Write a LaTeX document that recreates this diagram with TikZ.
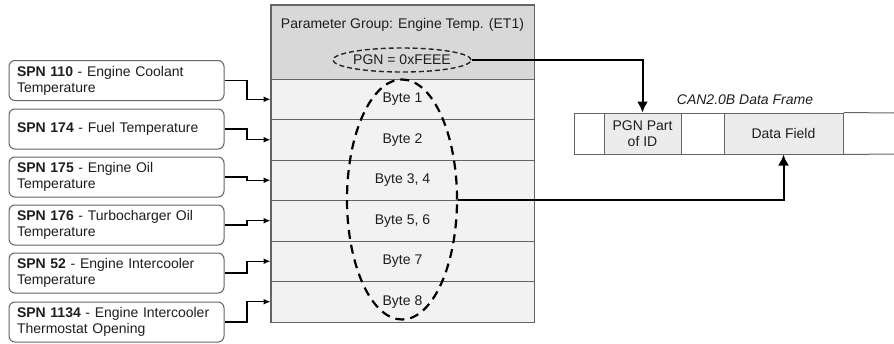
\documentclass[tikz,border=0pt]{standalone}
\usepackage{fontspec}
\setmainfont{Liberation Sans}
\usetikzlibrary{arrows.meta,shapes.geometric}
\definecolor{hdrgray}{RGB}{216,216,216}
\definecolor{rowgray}{RGB}{242,242,242}
\definecolor{cellgray}{RGB}{236,236,236}
\definecolor{linegray}{RGB}{100,100,100}
\definecolor{txt}{RGB}{30,30,30}
\tikzset{
  every node/.style={font=\fontsize{14}{16}\selectfont, text=txt},
  spnbox/.style={draw=linegray, line width=1pt, rounded corners=6pt, fill=white,
    minimum width=215pt, minimum height=40pt, text width=199pt, inner xsep=8pt,
    inner ysep=0pt, align=left},
  bytebox/.style={draw=linegray, line width=1pt, fill=rowgray, minimum width=263pt,
    minimum height=40.5pt, inner sep=0pt},
  canbox/.style={draw=linegray, line width=1pt, minimum height=41pt, inner sep=0pt, align=center},
  conn/.style={line width=1.4pt, -{Latex[length=7pt,width=6pt]}},
  bigarrow/.style={line width=2pt, -{Latex[length=11pt,width=11pt]}},
}
\begin{document}
\begin{tikzpicture}[x=1pt,y=-1pt]
\useasboundingbox (0,0) rectangle (894,343);
% main table
\node[draw=linegray, line width=1pt, fill=hdrgray, minimum width=263pt, minimum height=74pt, inner sep=0pt] (hdr) at (402.5,42) {};
\node (hdrtext) at (402.5,25) {Parameter Group: Engine Temp. (ET1)};
\node[bytebox] (r1) at (402.5,99.25) {Byte 1};
\node[bytebox] (r2) at (402.5,139.75) {Byte 2};
\node[bytebox] (r3) at (402.5,180.25) {Byte 3, 4};
\node[bytebox] (r4) at (402.5,220.75) {Byte 5, 6};
\node[bytebox] (r5) at (402.5,261.25) {Byte 7};
\node[bytebox] (r6) at (402.5,301.75) {Byte 8};
\draw[line width=1pt, draw=linegray] (hdr.north west) rectangle (r6.south east);
% ellipses
\node[ellipse, draw=black!85, dashed, dash pattern=on 5pt off 3pt, line width=1.4pt,
  minimum width=138pt, minimum height=24pt, inner sep=0pt] (pgn) at (402,60) {PGN = 0xFEEE};
\node[ellipse, draw=black, dash pattern=on 9pt off 6pt, line width=2.2pt,
  minimum width=110pt, minimum height=240pt, inner sep=0pt] (big) at (402,199.5) {};
% SPN boxes
\node[spnbox] (s1) at (116.5,80.5) {\textbf{SPN 110} - Engine Coolant\\Temperature};
\node[spnbox] (s2) at (116.5,129) {\textbf{SPN 174} - Fuel Temperature};
\node[spnbox] (s3) at (116.5,177) {\textbf{SPN 175} - Engine Oil\\Temperature};
\node[spnbox] (s4) at (116.5,225) {\textbf{SPN 176} - Turbocharger Oil\\Temperature};
\node[spnbox] (s5) at (116.5,273) {\textbf{SPN 52} - Engine Intercooler\\Temperature};
\node[spnbox] (s6) at (116.5,322) {\textbf{SPN 1134} - Engine Intercooler\\Thermostat Opening};
\coordinate (xm) at (247,0);
\foreach \i in {1,...,6}{
  \draw[conn] (s\i.east) -- (s\i.east -| xm) |- (r\i.west);
}
% CAN frame
\node (cantitle) at (745,100) {\itshape CAN2.0B Data Frame};
\node[canbox, fill=white, minimum width=30pt] (c0) at (589,133.5) {};
\node[canbox, fill=cellgray, minimum width=77pt] (pgnpart) at (642.5,133.5) {PGN Part\\of ID};
\node[canbox, fill=white, minimum width=43pt] (c2) at (702.5,133.5) {};
\node[canbox, fill=cellgray, minimum width=119pt] (data) at (783.5,133.5) {Data Field};
\coordinate (fe1) at (894,113);
\coordinate (fe2) at (894,154);
\draw[line width=1pt, draw=linegray] (data.north east) -- (fe1);
\draw[line width=1pt, draw=linegray] (data.south east) -- (fe2);
% big arrows
\draw[bigarrow] (pgn.east) -| (pgnpart.north);
\draw[bigarrow] (big.east) -| (data.south);
\end{tikzpicture}
\end{document}
